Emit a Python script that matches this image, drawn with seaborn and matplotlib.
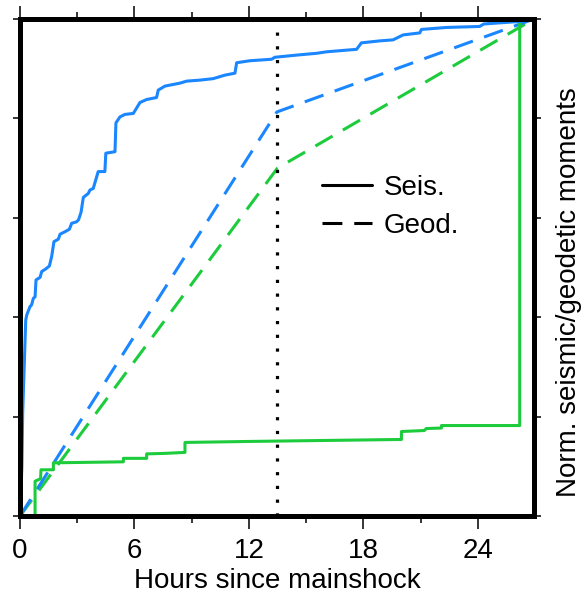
import numpy as np
import pandas as pd
import matplotlib
matplotlib.use("Agg")
import matplotlib.pyplot as plt
import seaborn as sns
from matplotlib.lines import Line2D
from matplotlib.ticker import MultipleLocator

# ---------------- data ----------------
T_END = 26.95
MAINSHOCK_MARK = 13.47

seis_blue_t = [0, 0.1, 0.14, 0.3, 0.35, 0.52, 0.61, 0.70, 0.79, 0.84, 1.05, 1.14, 1.31, 1.54,
               1.66, 1.78, 2.01, 2.10, 2.36, 2.59, 2.71, 2.97, 3.07, 3.20, 3.32, 3.58, 3.67,
               3.84, 3.97, 4.10, 4.45, 4.50, 4.98, 5.03, 5.24, 5.50, 5.94, 6.10, 6.29, 6.64,
               7.16, 7.25, 7.60, 8.39, 8.74, 9.43, 10.13, 10.74, 11.27, 11.36, 12.05, 13.19,
               13.36, 14.68, 15.55, 16.07, 17.65, 17.90, 18.87, 19.56, 20.09, 20.96, 21.05,
               22.36, 24.10, 24.32, 26.20, 26.95]
seis_blue_v = [0, 0.10, 0.207, 0.394, 0.404, 0.421, 0.425, 0.438, 0.441, 0.475, 0.480, 0.492,
               0.496, 0.503, 0.522, 0.552, 0.557, 0.567, 0.572, 0.577, 0.589, 0.592, 0.596,
               0.611, 0.641, 0.649, 0.656, 0.659, 0.676, 0.693, 0.693, 0.730, 0.733, 0.791,
               0.803, 0.808, 0.810, 0.820, 0.832, 0.838, 0.842, 0.857, 0.865, 0.871, 0.875,
               0.877, 0.880, 0.887, 0.891, 0.912, 0.916, 0.919, 0.923, 0.928, 0.931, 0.934,
               0.939, 0.952, 0.956, 0.958, 0.968, 0.972, 0.979, 0.983, 0.985, 0.990, 0.995,
               1.0]

seis_green_t = [0, 0.79, 0.79, 1.08, 1.10, 1.75, 1.75, 5.42, 5.42, 6.64, 6.64, 7.60, 8.65,
                8.65, 12.0, 16.0, 20.0, 20.0, 21.2, 21.3, 22.1, 22.1, 26.2, 26.2, 26.95]
seis_green_v = [0, 0, 0.070, 0.075, 0.093, 0.093, 0.107, 0.109, 0.116, 0.116, 0.125, 0.126,
                0.128, 0.148, 0.150, 0.152, 0.154, 0.170, 0.172, 0.176, 0.177, 0.182, 0.182,
                1.0, 1.0]

geod_blue_t = [0, 13.47, 26.95]
geod_blue_v = [0, 0.813, 1.0]
geod_green_t = [0, 13.5, 26.95]
geod_green_v = [0, 0.700, 1.0]

x_ticks = [0, 6, 12, 18, 24]
legend_labels = ["Seis.", "Geod."]

# ---------------- style ----------------
sns.set_theme(style="white")
plt.rcParams["font.family"] = ["Liberation Sans", "DejaVu Sans"]
plt.rcParams["text.color"] = "black"
plt.rcParams["axes.labelcolor"] = "black"
plt.rcParams["xtick.color"] = "black"
plt.rcParams["ytick.color"] = "black"

BLUE = "#1A86FF"
GREEN = "#1DCC3C"
FS = 20

fig = plt.figure(figsize=(5.84, 6.0), dpi=100)
ax = fig.add_axes([20 / 584, 1 - 516 / 600, 514 / 584, 497 / 600])

dash = (0, (6.5, 3.9))
sns.lineplot(x=geod_green_t, y=geod_green_v, sort=False, estimator=None, ax=ax,
             color=GREEN, lw=2.2, linestyle=dash)
sns.lineplot(x=geod_blue_t, y=geod_blue_v, sort=False, estimator=None, ax=ax,
             color=BLUE, lw=2.2, linestyle=dash)
sns.lineplot(x=seis_green_t, y=seis_green_v, sort=False, estimator=None, ax=ax,
             color=GREEN, lw=2.2)
sns.lineplot(x=seis_blue_t, y=seis_blue_v, sort=False, estimator=None, ax=ax,
             color=BLUE, lw=2.2)

ax.axvline(MAINSHOCK_MARK, color="black", lw=2.3, linestyle=(0, (1, 3.3)),
           dash_capstyle="butt", zorder=5)

ax.set_xlim(0, T_END)
ax.set_ylim(0, 1)

ax.set_xticks(x_ticks)
ax.set_xticklabels([str(t) for t in x_ticks], fontsize=FS)
ax.xaxis.set_minor_locator(MultipleLocator(3))
ax.set_yticks(np.arange(0, 1.01, 0.2))
ax.set_yticklabels([])

ax.tick_params(axis="x", which="major", direction="out", length=9.5, width=1.1,
               top=True, bottom=True, labeltop=False, labelbottom=True, pad=6, color="black")
ax.tick_params(axis="x", which="minor", direction="out", length=5, width=1.1,
               top=True, bottom=True, color="black")
ax.tick_params(axis="y", which="major", direction="out", length=5, width=1.1,
               left=True, right=True, labelleft=False, labelright=False, color="black")

for s in ax.spines.values():
    s.set_linewidth(3.6)
    s.set_color("black")
    s.set_zorder(10)

ax.set_xlabel("Hours since mainshock", fontsize=FS, labelpad=3)
ax.yaxis.set_label_position("right")
ax.set_ylabel("Norm. seismic/geodetic moments", fontsize=FS, rotation=90)
ax.yaxis.set_label_coords(1.042, 0.45)

handles = [Line2D([], [], color="black", lw=2.2),
           Line2D([], [], color="black", lw=2.2, linestyle=dash)]
ax.legend(handles, legend_labels, loc="center left", bbox_to_anchor=(0.538, 0.622),
          frameon=False, fontsize=FS, handlelength=1.8, handletextpad=0.45,
          labelspacing=0.45)

fig.savefig("out.png", dpi=100)
